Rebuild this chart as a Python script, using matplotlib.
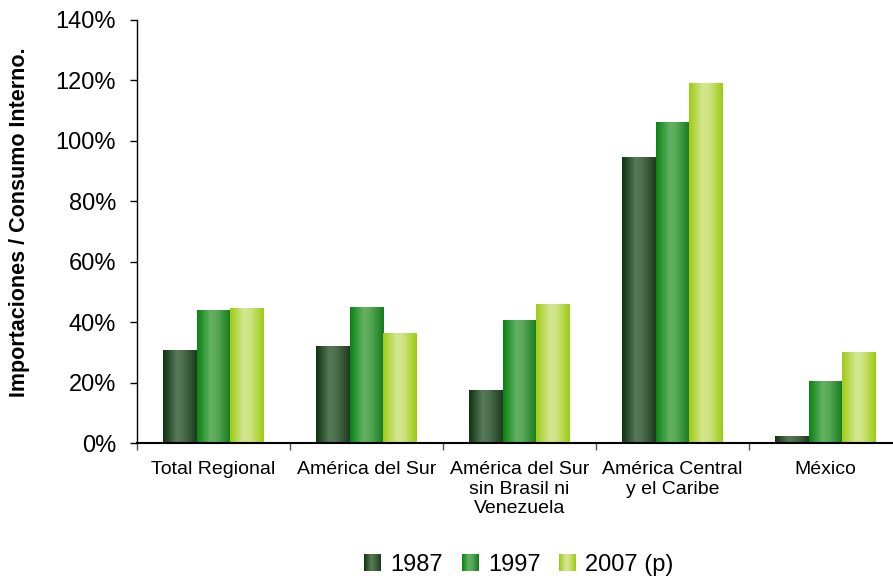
import numpy as np
import matplotlib
matplotlib.use("Agg")
import matplotlib.pyplot as plt
from matplotlib.colors import LinearSegmentedColormap
from matplotlib.legend_handler import HandlerBase
from matplotlib.image import BboxImage
from matplotlib.transforms import Bbox, TransformedBbox
from matplotlib.patches import Rectangle
from matplotlib.ticker import FuncFormatter

plt.rcParams['font.family'] = ['Liberation Sans', 'DejaVu Sans']

categories = ["Total Regional", "América del Sur", "América del Sur\nsin Brasil ni\nVenezuela",
              "América Central\ny el Caribe", "México"]
series = ["1987", "1997", "2007 (p)"]
v1987 = [0.305, 0.32, 0.175, 0.944, 0.02]
v1997 = [0.44, 0.45, 0.404, 1.06, 0.202]
v2007 = [0.444, 0.364, 0.457, 1.189, 0.298]

# cylinder-like horizontal shading for each series
cmaps = [
    LinearSegmentedColormap.from_list("c87", [(0, "#0f3310"), (0.4, "#567a56"), (0.6, "#4d6e4d"), (1, "#1e3a1e")]),
    LinearSegmentedColormap.from_list("c97", [(0, "#0a8212"), (0.4, "#62b262"), (0.6, "#58a858"), (1, "#137a1a")]),
    LinearSegmentedColormap.from_list("c07", [(0, "#9fcb14"), (0.4, "#d4e690"), (0.6, "#cfe384"), (1, "#9ccc10")]),
]
grad = np.linspace(0, 1, 128).reshape(1, -1)


class GradHandler(HandlerBase):
    def __init__(self, cmap):
        super().__init__()
        self.cmap = cmap

    def create_artists(self, legend, orig_handle, xdescent, ydescent, width, height, fontsize, trans):
        bb = TransformedBbox(Bbox.from_bounds(-xdescent, -ydescent, width, height), trans)
        img = BboxImage(bb, cmap=self.cmap, interpolation="bilinear")
        img.set_data(grad)
        return [img]


fig = plt.figure(figsize=(8.93, 5.80), dpi=100)
ax = fig.add_axes([137 / 893, 1 - 443 / 580, 765 / 893, 423 / 580])

x = np.arange(len(categories))
w = 0.222
handles = []
for i, vals in enumerate([v1987, v1997, v2007]):
    bars = ax.bar(x + (i - 1) * w, vals, w, color="none", edgecolor="none")
    for b in bars:
        x0, y0 = b.get_x(), b.get_y()
        ax.imshow(grad, cmap=cmaps[i], aspect="auto", interpolation="bilinear",
                  extent=(x0, x0 + b.get_width(), y0, y0 + b.get_height()), zorder=2)
    handles.append(Rectangle((0, 0), 1, 1))

ax.set_xlim(-0.5, len(categories) - 0.5)
ax.set_ylim(0, 1.4)
ax.set_yticks(np.arange(0, 1.41, 0.2))
ax.yaxis.set_major_formatter(FuncFormatter(lambda v, p: "%d%%" % round(v * 100)))
ax.tick_params(axis="y", direction="out", length=5, width=1, pad=10, labelsize=17, colors="black")

ax.set_xticks(x)
ax.set_xticklabels(categories, fontsize=14, linespacing=1.2)
ax.set_xticks(np.arange(-0.5, len(categories), 1), minor=True)
ax.tick_params(axis="x", which="major", length=0, pad=13)
ax.tick_params(axis="x", which="minor", direction="out", length=5, width=1, color="#555555")

for s in ["top", "right"]:
    ax.spines[s].set_visible(False)
ax.spines["left"].set_linewidth(1)
ax.spines["bottom"].set_linewidth(1.5)

ax.set_ylabel("Importaciones / Consumo Interno.", fontsize=15.5, fontweight="bold")
ax.yaxis.set_label_coords(-0.14, 0.522)

fig.legend(handles, series, loc="center", bbox_to_anchor=(519 / 893, 1 - 565 / 580),
           ncol=3, frameon=False, fontsize=17, handlelength=0.7, handleheight=0.7,
           handletextpad=0.4, columnspacing=0.8,
           handler_map={h: GradHandler(c) for h, c in zip(handles, cmaps)})

fig.savefig("out.png", dpi=100)
